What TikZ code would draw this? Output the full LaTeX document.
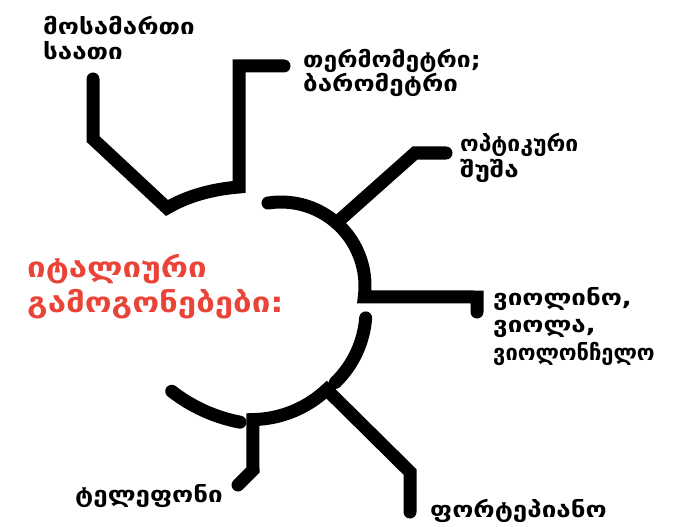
\documentclass[tikz,border=0pt]{standalone}
\usepackage{fontspec}
\setmainfont{DejaVu Sans}
\newfontfamily\geofont{DejaVu Sans}[FakeStretch=1.18]
\usetikzlibrary{calc}
\definecolor{titlered}{RGB}{234,68,56}
\newcommand\gtxt[2]{\iffontchar\font"1C98\relax #1\else #2\fi}
\begin{document}
\begin{tikzpicture}[x=1pt,y=-1pt,
  link/.style={line width=13pt, line join=miter, line cap=round, draw=black},
  lbl/.style={anchor=base west, inner sep=0pt, font=\geofont\bfseries\fontsize{22}{24}\selectfont},
  ttl/.style={anchor=base west, inner sep=0pt, text=titlered, font=\geofont\bfseries\fontsize{28}{30}\selectfont}]
\useasboundingbox (0,0) rectangle (681,527);
% centres of the arc pieces
\coordinate (cT) at (281,286);
\coordinate (cR) at (265,310);
\coordinate (cB) at (251,309);
\coordinate (cL) at (270,265);
% clock + thermometer branch
\coordinate (clkEnd) at (93,79);
\coordinate (clkBend) at (93,139);
\coordinate (vtip) at (167,208);
\coordinate (thBase) at (239,187);
\coordinate (thTop) at (239,66);
\coordinate (thEnd) at (284,66);
\draw[link] (clkEnd) -- (clkBend) -- (vtip) .. controls (187,196.3) and (211,189.3) .. (thBase) -- (thTop) -- (thEnd);
% top arc + violin branch
\coordinate (taStart) at ($(cT)+(261.1:84)$);
\coordinate (vnCorner) at (477,297);
\coordinate (vnEnd) at (477,312);
\draw[link] (taStart) arc[start angle=261.1, end angle=367.5, radius=84] -- (vnCorner) -- (vnEnd);
% optics branch
\coordinate (opJoin) at ($(cT)+(311.3:84)$);
\coordinate (opBend) at (415,153);
\coordinate (opEnd) at (446,153);
\draw[link] (opJoin) -- (opBend) -- (opEnd);
% right lower arc
\coordinate (rlStart) at ($(cR)+(4.5:101)$);
\draw[link] (rlStart) arc[start angle=4.5, end angle=45.8, radius=101];
% piano + bottom arc + telephone
\coordinate (pnEnd) at (410,512);
\coordinate (pnBend) at (410,472);
\coordinate (pnJoin) at ($(cB)+(46.8:110.6)$);
\coordinate (tlBend) at (253,470);
\coordinate (tlEnd) at (238,485);
\draw[link] (pnEnd) -- (pnBend) -- (pnJoin) arc[start angle=46.8, end angle=89, radius=110.6] -- (tlBend) -- (tlEnd);
% bottom left arc
\coordinate (blStart) at ($(cL)+(100.8:160)$);
\draw[link] (blStart) arc[start angle=100.8, end angle=127.9, radius=160];
% labels
\node[lbl] (clk1) at (43,35) {\gtxt{ᲛᲝᲡᲐᲛᲐᲠᲗᲘ}{მოსამართი}};
\node[lbl] (clk2) at (43,60) {\gtxt{ᲡᲐᲐᲗᲘ}{საათი}};
\node[lbl] (th1) at (303,68) {\scalebox{0.95}[1]{\gtxt{ᲗᲔᲠᲛᲝᲛᲔᲢᲠᲘ;}{თერმომეტრი;}}};
\node[lbl] (th2) at (303,92) {\gtxt{ᲑᲐᲠᲝᲛᲔᲢᲠᲘ}{ბარომეტრი}};
\node[lbl] (op1) at (460,152) {\scalebox{0.88}[1]{\gtxt{ᲝᲞᲢᲘᲙᲣᲠᲘ}{ოპტიკური}}};
\node[lbl] (op2) at (460,177) {\gtxt{ᲨᲣᲨᲐ}{შუშა}};
\node[lbl] (vn1) at (493,305) {\gtxt{ᲕᲘᲝᲚᲘᲜᲝ,}{ვიოლინო,}};
\node[lbl] (vn2) at (493,332) {\gtxt{ᲕᲘᲝᲚᲐ,}{ვიოლა,}};
\node[lbl] (vn3) at (493,360) {\scalebox{0.84}[1]{\gtxt{ᲕᲘᲝᲚᲝᲜᲩᲔᲚᲝ}{ვიოლონჩელო}}};
\node[lbl] (tel) at (75,502) {\gtxt{ᲢᲔᲚᲔᲤᲝᲜᲘ}{ტელეფონი}};
\node[lbl] (pno) at (430,517) {\gtxt{ᲤᲝᲠᲢᲔᲞᲘᲐᲜᲝ}{ფორტეპიანო}};
\node[ttl] (ti1) at (27,277) {\gtxt{ᲘᲢᲐᲚᲘᲣᲠᲘ}{იტალიური}};
\node[ttl] (ti2) at (27,312) {\gtxt{ᲒᲐᲛᲝᲒᲝᲜᲔᲑᲔᲑᲘ:}{გამოგონებები:}};
\end{tikzpicture}
\end{document}
